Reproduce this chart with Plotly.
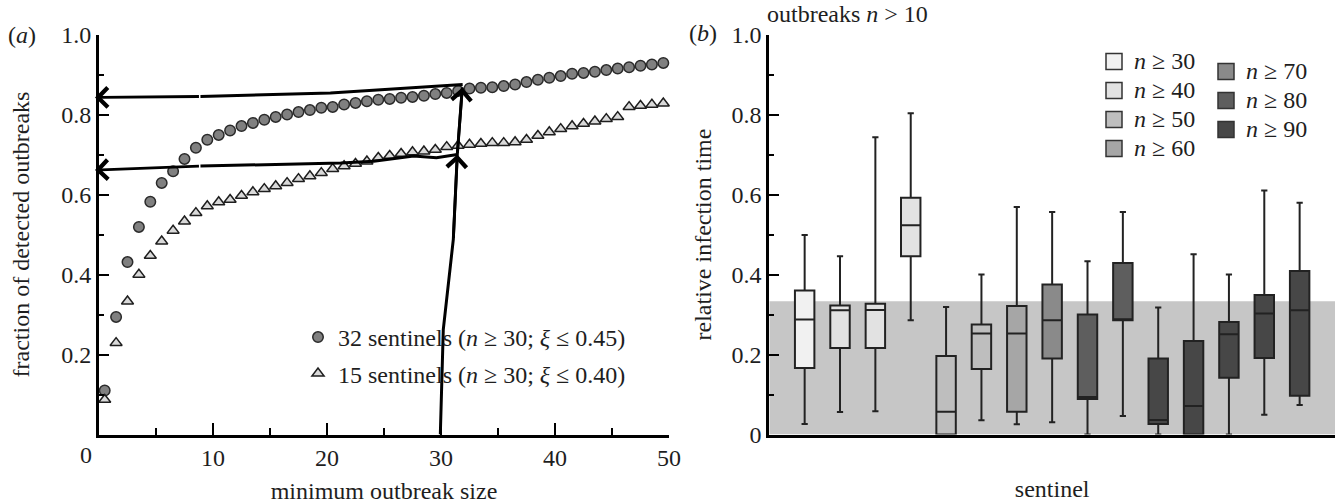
import plotly.graph_objects as go

# ---------------- panel (a) data ----------------
min_outbreak_size = [0.5, 1.5, 2.5, 3.5, 4.5, 5.5, 6.5, 7.5, 8.5, 9.5,
                     10.5, 11.5, 12.5, 13.5, 14.5, 15.5, 16.5, 17.5, 18.5, 19.5,
                     20.5, 21.5, 22.5, 23.5, 24.5, 25.5, 26.5, 27.5, 28.5, 29.5,
                     30.5, 31.5, 32.5, 33.5, 34.5, 35.5, 36.5, 37.5, 38.5, 39.5,
                     40.5, 41.5, 42.5, 43.5, 44.5, 45.5, 46.5, 47.5, 48.5, 49.5]

frac_32_sentinels = [0.110, 0.294, 0.431, 0.519, 0.582, 0.629, 0.658, 0.689, 0.717, 0.737,
                     0.749, 0.760, 0.771, 0.779, 0.787, 0.794, 0.800, 0.806, 0.811, 0.817,
                     0.819, 0.825, 0.829, 0.833, 0.837, 0.839, 0.842, 0.844, 0.847, 0.851,
                     0.854, 0.859, 0.865, 0.867, 0.868, 0.871, 0.875, 0.881, 0.887, 0.892,
                     0.896, 0.902, 0.904, 0.907, 0.911, 0.915, 0.918, 0.922, 0.925, 0.929]

frac_15_sentinels = [0.087, 0.229, 0.333, 0.400, 0.447, 0.483, 0.510, 0.533, 0.554, 0.571,
                     0.581, 0.587, 0.597, 0.606, 0.614, 0.621, 0.629, 0.639, 0.646, 0.654,
                     0.664, 0.671, 0.677, 0.683, 0.692, 0.697, 0.702, 0.706, 0.708, 0.712,
                     0.719, 0.722, 0.725, 0.727, 0.729, 0.729, 0.731, 0.737, 0.747, 0.756,
                     0.764, 0.771, 0.777, 0.783, 0.789, 0.794, 0.819, 0.822, 0.825, 0.828]

series_names = ["32 sentinels (<i>n</i> \u2265 30; <i>\u03be</i> \u2264 0.45)",
                "15 sentinels (<i>n</i> \u2265 30; <i>\u03be</i> \u2264 0.40)"]

# hand-drawn guide arrows (data coordinates of panel a)
guide_vert_x = [29.94, 30.2, 31.08, 31.43, 31.87]
guide_vert_y = [0.0, 0.2625, 0.4875, 0.700, 0.8675]
guide_top_x = [31.9, 20.3, 8.9, -0.35]
guide_top_y = [0.875, 0.854, 0.845, 0.8425]
guide_low_x = [31.43, 29.6, 27.6, 24.1, 21.2, 8.9, -0.35]
guide_low_y = [0.700, 0.692, 0.696, 0.683, 0.679, 0.671, 0.661]

x_ticks_a = [0, 10, 20, 30, 40, 50]
x_ticktext_a = ["", "10", "20", "30", "40", "50"]
y_ticks_a = [0.2, 0.4, 0.6, 0.8, 1.0]
y_ticktext_a = ["0.2", "0.4", "0.6", "0.8", "1.0"]

# ---------------- panel (b) data ----------------
sentinel_pos = [1, 2, 3, 4, 5, 6, 7, 8, 9, 10, 11, 12, 13, 14, 15]
box_group = [30, 40, 40, 40, 50, 50, 60, 70, 80, 80, 90, 90, 90, 90, 90]
box_q1 = [0.166, 0.216, 0.216, 0.4455, 0.0, 0.1635, 0.057, 0.190, 0.0886, 0.2857,
          0.026, 0.0, 0.1418, 0.191, 0.097]
box_median = [0.2875, 0.3107, 0.311, 0.523, 0.057, 0.2525, 0.2525, 0.2857, 0.094, 0.2857,
              0.036, 0.071, 0.2508, 0.3025, 0.3107]
box_q3 = [0.360, 0.3224, 0.327, 0.592, 0.196, 0.275, 0.3215, 0.375, 0.300, 0.4288,
          0.190, 0.234, 0.2815, 0.349, 0.409]
box_low = [0.026, 0.056, 0.058, 0.2857, 0.0, 0.0354, 0.0254, 0.0304, 0.0, 0.046,
           0.0, 0.0, 0.0, 0.0495, 0.0736]
box_high = [0.499, 0.4455, 0.743, 0.803, 0.319, 0.400, 0.5685, 0.556, 0.433, 0.556,
            0.3174, 0.4505, 0.3998, 0.610, 0.5795]

group_levels = [30, 40, 50, 60, 70, 80, 90]
group_colors = ["#f1f1f1", "#e2e2e2", "#bebebe", "#a6a6a6", "#8a8a8a", "#5e5e5e", "#474747"]
shade_upper = 1 / 3

y_ticks_b = [0, 0.2, 0.4, 0.6, 0.8, 1.0]
y_ticktext_b = ["0", "0.2", "0.4", "0.6", "0.8", "1.0"]

# ---------------- styling ----------------
W, H = 1340, 504
FONT = "Liberation Serif"
TXT = "#1e1e1e"

fig = go.Figure()

fig.add_trace(go.Scatter(
    x=min_outbreak_size, y=frac_32_sentinels, mode="markers", name=series_names[0],
    marker=dict(symbol="circle", size=10.5, color="#808080", line=dict(color="#2a2a2a", width=1.5)),
    xaxis="x", yaxis="y", legend="legend", legendgroup="s32", cliponaxis=False,
))
fig.add_trace(go.Scatter(
    x=min_outbreak_size, y=frac_15_sentinels, mode="markers", name=series_names[1],
    marker=dict(symbol="triangle-up", size=10.5, color="#d9d9d9", line=dict(color="#1e1e1e", width=1.5)),
    xaxis="x", yaxis="y", legend="legend", legendgroup="s15", cliponaxis=False,
))

for gx, gy in [(guide_vert_x, guide_vert_y), (guide_top_x[:-1], guide_top_y[:-1]),
               (guide_low_x[:-1], guide_low_y[:-1])]:
    fig.add_trace(go.Scatter(x=gx, y=gy, mode="lines", line=dict(color="black", width=3),
                             xaxis="x", yaxis="y", showlegend=False, hoverinfo="skip"))

annotations = []


def arrow(tip_x, tip_y, tail_x, tail_y):
    return dict(x=tip_x, y=tip_y, ax=tail_x, ay=tail_y, xref="x", yref="y", axref="x", ayref="y",
                text="", showarrow=True, arrowhead=4, arrowsize=1.35, arrowwidth=2.8,
                arrowcolor="black", standoff=0)


annotations.append(arrow(guide_vert_x[-1], guide_vert_y[-1], guide_vert_x[-2], guide_vert_y[-2]))
annotations.append(arrow(guide_vert_x[-2], guide_vert_y[-2], guide_vert_x[-3], guide_vert_y[-3]))
annotations.append(arrow(guide_top_x[-1], guide_top_y[-1], guide_top_x[-2], guide_top_y[-2]))
annotations.append(arrow(guide_low_x[-1], guide_low_y[-1], guide_low_x[-2], guide_low_y[-2]))

for lvl, col in zip(group_levels, group_colors):
    idx = [i for i, g in enumerate(box_group) if g == lvl]
    fig.add_trace(go.Box(
        x=[sentinel_pos[i] for i in idx],
        q1=[box_q1[i] for i in idx],
        median=[box_median[i] for i in idx],
        q3=[box_q3[i] for i in idx],
        lowerfence=[box_low[i] for i in idx],
        upperfence=[box_high[i] for i in idx],
        width=0.55, whiskerwidth=0.32, boxpoints=False,
        fillcolor=col, line=dict(color="#222222", width=2),
        xaxis="x2", yaxis="y2", showlegend=False, hoverinfo="skip",
    ))

for lvl, col in zip(group_levels, group_colors):
    fig.add_trace(go.Scatter(
        x=[None], y=[None], mode="markers",
        name=f'<span style="font-size:24px"><i>n</i> \u2265 {lvl}</span>',
        marker=dict(symbol="square", size=17, color=col, line=dict(color="#333333", width=1.5)),
        xaxis="x2", yaxis="y2", legend="legend2" if lvl <= 60 else "legend3",
    ))

annotations += [
    dict(text="(<i>a</i>)", x=22 / W, y=1 - 35 / H, xref="paper", yref="paper",
         xanchor="center", yanchor="middle", showarrow=False, font=dict(family=FONT, size=24, color=TXT)),
    dict(text="(<i>b</i>)", x=703 / W, y=1 - 33 / H, xref="paper", yref="paper",
         xanchor="center", yanchor="middle", showarrow=False, font=dict(family=FONT, size=24, color=TXT)),
    dict(text="outbreaks <i>n</i> &gt; 10", x=765 / W, y=1 - 14 / H, xref="paper", yref="paper",
         xanchor="left", yanchor="middle", showarrow=False, font=dict(family=FONT, size=24, color=TXT)),
    dict(text="0", x=0, xref="x", xshift=-13, y=1 - 455 / H, yref="paper",
         xanchor="center", yanchor="middle", showarrow=False, font=dict(family=FONT, size=24, color=TXT)),
]

tickfont = dict(family=FONT, size=24, color=TXT)
titlefont = dict(family=FONT, size=24, color=TXT)
common = dict(showline=True, linecolor="black", linewidth=3,
              showgrid=False, zeroline=False, tickcolor="black", tickwidth=2, tickfont=tickfont)
minor_x = dict(dtick=5, tick0=0, ticks="inside", ticklen=7, tickwidth=2, tickcolor="black")
minor_y = dict(dtick=0.1, tick0=0, ticks="inside", ticklen=5, tickwidth=2, tickcolor="black")

xd_a = [99 / W, 669 / W]
xd_b = [769.3 / W, 1335 / W]
yd = [1 - 434.5 / H, 1 - 34.5 / H]

fig.update_layout(
    template="none",
    width=W, height=H,
    margin=dict(l=0, r=0, t=0, b=0),
    paper_bgcolor="white", plot_bgcolor="rgba(0,0,0,0)",
    font=dict(family=FONT, size=24, color=TXT),
    boxmode="overlay",
    xaxis=dict(domain=xd_a, range=[0, 50], anchor="y", ticks="inside", ticklen=12,
               tickmode="array", tickvals=x_ticks_a, ticktext=x_ticktext_a, minor=minor_x,
               title=dict(text="minimum outbreak size", font=titlefont, standoff=18), **common),
    yaxis=dict(domain=yd, range=[0, 1], anchor="x", ticks="inside", ticklen=10,
               tickmode="array", tickvals=y_ticks_a, ticktext=y_ticktext_a, minor=minor_y,
               title=dict(text="fraction of detected outbreaks", font=titlefont, standoff=25), **common),
    xaxis2=dict(domain=xd_b, range=[0, 16], anchor="y2", ticks="", showticklabels=False,
                title=dict(text="sentinel", font=titlefont, standoff=44), **common),
    yaxis2=dict(domain=yd, range=[0, 1], anchor="x2", ticks="inside", ticklen=10,
                tickmode="array", tickvals=y_ticks_b, ticktext=y_ticktext_b, minor=minor_y,
                title=dict(text="relative infection time", font=titlefont, standoff=14), **common),
    shapes=[dict(type="rect", xref="x2", yref="y2", x0=0, x1=16, y0=0, y1=shade_upper,
                 fillcolor="#c6c6c6", line=dict(width=0), layer="below")],
    annotations=annotations,
    legend=dict(x=298 / W, y=1 - 315 / H, xanchor="left", yanchor="top", bgcolor="rgba(0,0,0,0)",
                font=dict(family=FONT, size=24, color=TXT), tracegroupgap=2, traceorder="grouped",
                borderwidth=0),
    legend2=dict(x=1094 / W, y=1 - 42 / H, xanchor="left", yanchor="top", bgcolor="rgba(0,0,0,0)",
                 font=dict(family=FONT, size=20, color=TXT), borderwidth=0),
    legend3=dict(x=1206 / W, y=1 - 52 / H, xanchor="left", yanchor="top", bgcolor="rgba(0,0,0,0)",
                 font=dict(family=FONT, size=20, color=TXT), borderwidth=0),
)

fig.write_html("out.html", post_script="document.body.style.margin='0px';",
               config={"displayModeBar": False})
